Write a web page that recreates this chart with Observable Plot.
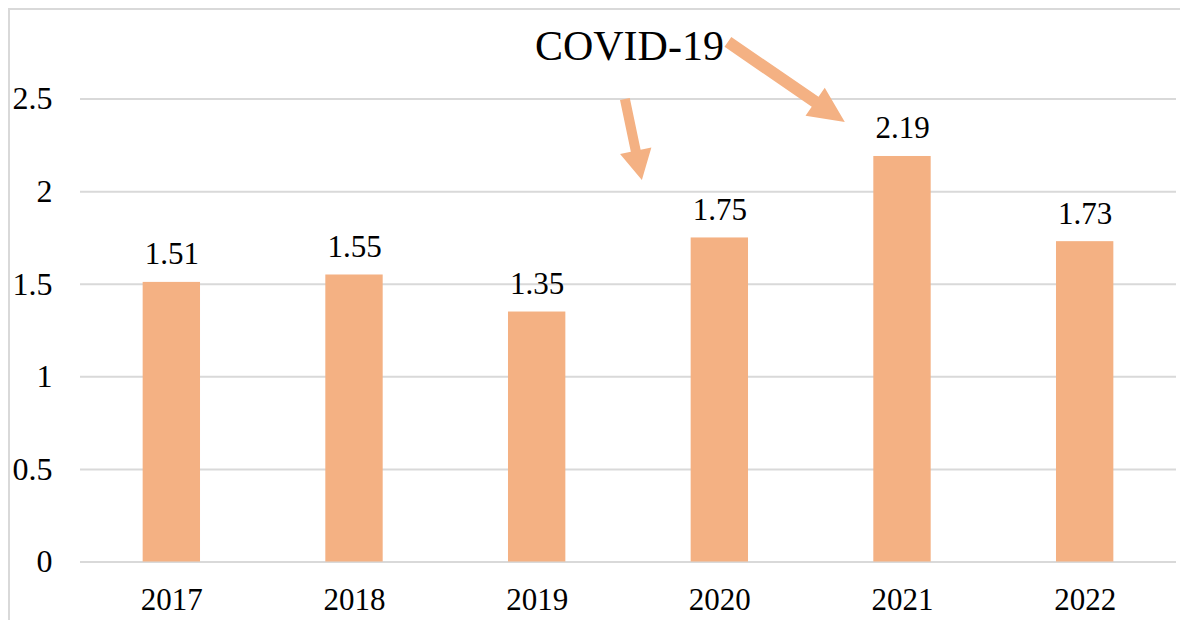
<!DOCTYPE html>
<html>
<head>
<meta charset="utf-8">
<script src="https://cdn.jsdelivr.net/npm/d3@7"></script>
<script src="https://cdn.jsdelivr.net/npm/@observablehq/plot@0.6"></script>
<style>
  html, body { margin: 0; padding: 0; background: #fff; }
  #wrap { position: relative; width: 1180px; height: 620px; overflow: hidden; }
  #border { position: absolute; left: 8px; top: 8px; width: 1300px; height: 800px;
            border: 2px solid #d9d9d9; box-sizing: border-box; pointer-events: none; }
  #wrap svg, #wrap svg text { font-family: "Liberation Serif", "Times New Roman", serif !important; }
</style>
</head>
<body>
<div id="wrap"><div id="border"></div></div>
<script>
const years = [2017, 2018, 2019, 2020, 2021, 2022];
const values = [1.51, 1.55, 1.35, 1.75, 2.19, 1.73];
const yTicks = [0, 0.5, 1, 1.5, 2, 2.5];
const annotationText = "COVID-19";
const annotationPos = [2019.505, 2.784];
// arrows: start -> tip, in data units
const arrowStarts = [[2019.483, 2.498], [2020.047, 2.806]];
const arrowTips = [[2019.576, 2.060], [2020.687, 2.373]];

const data = years.map((y, i) => ({year: y, value: values[i]}));
const arrows = arrowStarts.map((s, i) => ({x1: s[0], y1: s[1], x2: arrowTips[i][0], y2: arrowTips[i][1]}));

const barColor = "#F4B183";
const font = "Liberation Serif";
const half = 0.157;
const arrowStyle = [{w: 10, hw: 32, hl: 30}, {w: 12, hw: 34, hl: 36}];

function arrowMark(index, scales) {
  const g = d3.create("svg:g");
  arrows.forEach((a, i) => {
    const sx = scales.x(a.x1), sy = scales.y(a.y1);
    const tx = scales.x(a.x2), ty = scales.y(a.y2);
    const dx = tx - sx, dy = ty - sy, L = Math.hypot(dx, dy);
    const ux = dx / L, uy = dy / L, nx = -uy, ny = ux;
    const {w, hw, hl} = arrowStyle[i];
    const bx = tx - ux * hl, by = ty - uy * hl;
    const pts = [
      [sx + nx * w / 2, sy + ny * w / 2],
      [bx + nx * w / 2, by + ny * w / 2],
      [bx + nx * hw / 2, by + ny * hw / 2],
      [tx, ty],
      [bx - nx * hw / 2, by - ny * hw / 2],
      [bx - nx * w / 2, by - ny * w / 2],
      [sx - nx * w / 2, sy - ny * w / 2]
    ];
    g.append("polygon").attr("points", pts.map(p => p.join(",")).join(" ")).attr("fill", barColor);
  });
  return g.node();
}

const chart = Plot.plot({
  width: 1180,
  height: 620,
  marginLeft: 80,
  marginRight: 4,
  marginTop: 6,
  marginBottom: 58.5,
  style: {fontFamily: font, background: "transparent", color: "#000"},
  x: {type: "linear", domain: [2016.5, 2022.5]},
  y: {domain: [0, 3]},
  marks: [
    Plot.ruleY(yTicks, {stroke: "#d9d9d9", strokeWidth: 2}),
    Plot.rectY(data, {x1: d => d.year - half, x2: d => d.year + half, y: "value", fill: barColor}),
    Plot.text(data, {x: "year", y: "value", text: d => d.value.toFixed(2), dy: -18, lineAnchor: "bottom", fontSize: 31, fontFamily: font, fill: "#000"}),
    Plot.axisY({ticks: yTicks, tickSize: 0, tickPadding: 28, fontSize: 32, fontFamily: font, label: null, tickFormat: d => String(d)}),
    Plot.axisX({ticks: years, tickSize: 0, tickPadding: 25.5, fontSize: 31, fontFamily: font, label: null, tickFormat: d => String(d)}),
    arrowMark,
    Plot.text([annotationText], {x: annotationPos[0], y: annotationPos[1], text: d => d, fontSize: 42, fontFamily: font, fill: "#000"})
  ]
});
document.getElementById("wrap").prepend(chart);
</script>
</body>
</html>
